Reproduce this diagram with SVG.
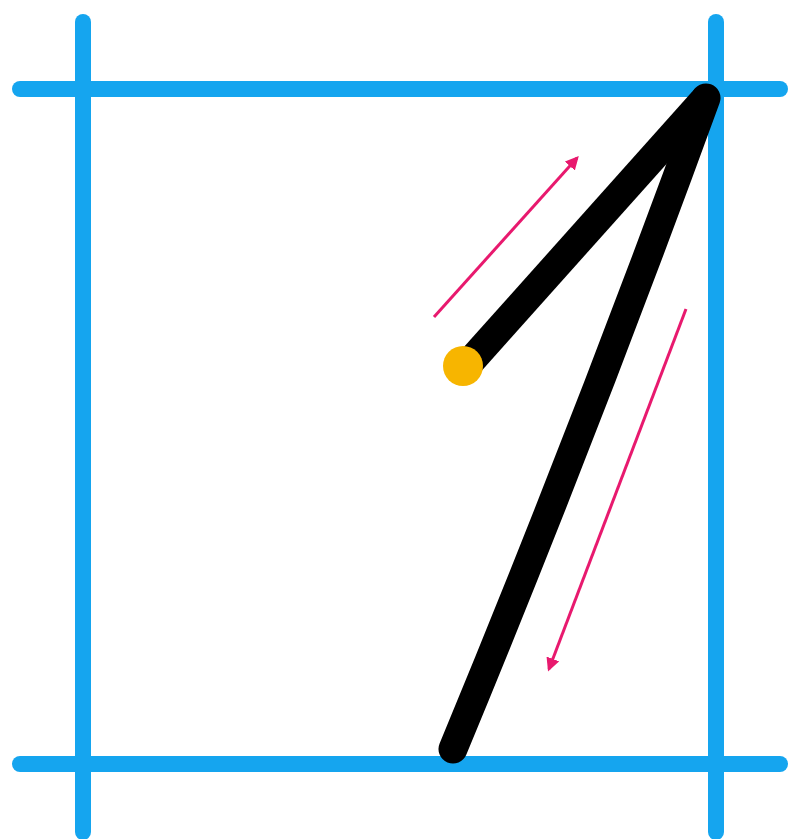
<svg xmlns="http://www.w3.org/2000/svg" width="788" height="839" viewBox="0 0 788 839">
  <style>
    .grid { stroke: #15A5EF; stroke-width: 16; stroke-linecap: round; fill: none; }
    .ink { stroke: #000000; stroke-width: 29; fill: none; }
    .guide { stroke: #E8196E; stroke-width: 3; fill: none; }
  </style>
  <defs>
    <marker id="ah" viewBox="0 0 10 10" refX="8" refY="5" markerWidth="4.5" markerHeight="4.5" markerUnits="strokeWidth" orient="auto">
      <path d="M0,0 L10,5 L0,10 z" fill="#E8196E"/>
    </marker>
  </defs>
  <rect width="788" height="839" fill="#FFFFFF"/>
  <g id="grid">
    <line class="grid" x1="83" y1="22" x2="83" y2="832"/>
    <line class="grid" x1="716" y1="22" x2="716" y2="832"/>
    <line class="grid" x1="20" y1="89" x2="780" y2="89"/>
    <line class="grid" x1="20" y1="764" x2="780" y2="764"/>
  </g>
  <g id="digit">
    <path class="ink" d="M470,362 L706,98" stroke-linecap="butt"/>
    <path class="ink" d="M706,98 Q586,428 453,749" stroke-linecap="round"/>
    <circle cx="705" cy="98" r="7" fill="#000"/>
    <circle id="start" cx="463" cy="366" r="20" fill="#F7B500"/>
  </g>
  <g id="connectors">
    <line class="guide" x1="434" y1="317" x2="577" y2="158" marker-end="url(#ah)"/>
    <line class="guide" x1="686" y1="309" x2="549" y2="669" marker-end="url(#ah)"/>
  </g>
</svg>
